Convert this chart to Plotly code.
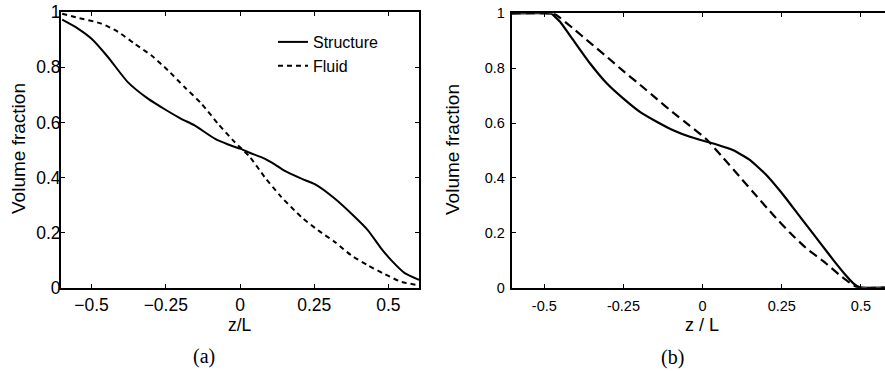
import plotly.graph_objects as go

# ---- Panel (a) data ----
a_struct_z = [-0.599, -0.546, -0.5, -0.445, -0.378, -0.31, -0.248, -0.198, -0.153, -0.085,
              -0.04, 0.0, 0.033, 0.083, 0.117, 0.151, 0.207, 0.252, 0.319, 0.387,
              0.431, 0.476, 0.51, 0.555, 0.603]
a_struct_v = [0.972, 0.94, 0.903, 0.837, 0.746, 0.686, 0.644, 0.613, 0.589, 0.541,
              0.52, 0.505, 0.49, 0.469, 0.448, 0.424, 0.396, 0.376, 0.324, 0.257,
              0.209, 0.143, 0.1, 0.054, 0.03]
a_fluid_z = [-0.599, -0.546, -0.467, -0.411, -0.355, -0.299, -0.243, -0.187, -0.13, -0.074,
             -0.018, 0.033, 0.083, 0.139, 0.207, 0.263, 0.319, 0.375, 0.431, 0.488,
             0.544, 0.603]
a_fluid_v = [0.994, 0.979, 0.958, 0.928, 0.885, 0.843, 0.789, 0.728, 0.668, 0.595,
             0.529, 0.475, 0.402, 0.33, 0.257, 0.209, 0.167, 0.118, 0.082, 0.05,
             0.022, 0.01]

# ---- Panel (b) data ----
b_struct_z = [-0.603, -0.49, -0.477, -0.451, -0.409, -0.356, -0.303, -0.251, -0.198, -0.145,
              -0.093, -0.04, 0.013, 0.044, 0.097, 0.15, 0.202, 0.25, 0.3, 0.35,
              0.4, 0.425, 0.45, 0.475, 0.495, 0.505, 0.576]
b_struct_v = [1.0, 1.0, 0.998, 0.97, 0.903, 0.818, 0.745, 0.69, 0.641, 0.605,
              0.574, 0.55, 0.532, 0.522, 0.501, 0.465, 0.41, 0.345, 0.27, 0.195,
              0.12, 0.083, 0.048, 0.017, 0.002, 0.0, 0.0]
b_fluid_z = [-0.603, -0.475, -0.462, -0.409, -0.356, -0.303, -0.251, -0.198, -0.145, -0.093,
             -0.04, 0.013, 0.065, 0.118, 0.171, 0.223, 0.276, 0.329, 0.381, 0.434,
             0.465, 0.491, 0.576]
b_fluid_v = [1.0, 1.0, 0.994, 0.945, 0.893, 0.842, 0.79, 0.74, 0.688, 0.638,
             0.59, 0.54, 0.473, 0.403, 0.333, 0.265, 0.2, 0.142, 0.097, 0.045,
             0.018, 0.0, 0.0]

y_ticks = [0, 0.2, 0.4, 0.6, 0.8, 1]
y_ticktext = ["0", "0.2", "0.4", "0.6", "0.8", "1"]
x_ticks = [-0.5, -0.25, 0, 0.25, 0.5]
a_x_ticktext = ["\u22120.5", "\u22120.25", "0", "0.25", "0.5"]
b_x_ticktext = ["-0.5", "-0.25", "0", "0.25", "0.5"]

W, H = 885, 371


def px(x):
    return x / W


def py(y):
    return 1 - y / H


FONT = "Liberation Sans, Arial, sans-serif"
SERIF = "Liberation Serif, Times New Roman, serif"

fig = go.Figure()
fig.add_trace(go.Scatter(x=a_struct_z, y=a_struct_v, mode="lines", name="Structure",
                         line=dict(color="black", width=2, shape="spline", smoothing=0.6),
                         xaxis="x", yaxis="y"))
fig.add_trace(go.Scatter(x=a_fluid_z, y=a_fluid_v, mode="lines", name="Fluid",
                         line=dict(color="black", width=2, dash="5px,4px", shape="spline", smoothing=0.6),
                         xaxis="x", yaxis="y"))
fig.add_trace(go.Scatter(x=b_struct_z, y=b_struct_v, mode="lines", showlegend=False,
                         line=dict(color="black", width=2.2, shape="spline", smoothing=0.4),
                         xaxis="x2", yaxis="y2"))
fig.add_trace(go.Scatter(x=b_fluid_z, y=b_fluid_v, mode="lines", showlegend=False,
                         line=dict(color="black", width=2.2, dash="9px,5px", shape="spline", smoothing=0.4),
                         xaxis="x2", yaxis="y2"))

common = dict(showgrid=False, zeroline=False, showline=True, linecolor="black",
              ticks="inside", ticklen=4, tickwidth=1, tickcolor="black", automargin=False,
              ticklabeloverflow="allow")

fig.update_layout(
    width=W, height=H,
    margin=dict(l=0, r=0, t=0, b=0, autoexpand=False),
    paper_bgcolor="white", plot_bgcolor="white",
    font=dict(family=FONT, color="black"),
    showlegend=True,
    legend=dict(x=px(273), y=py(25), xanchor="left", yanchor="top",
                bgcolor="rgba(0,0,0,0)", font=dict(size=16, family=FONT),
                itemwidth=30, tracegroupgap=0),
    xaxis=dict(domain=[px(61), px(419)], range=[-0.603, 0.603], anchor="y",
               tickvals=x_ticks, ticktext=a_x_ticktext, tickfont=dict(size=17.5),
               linewidth=2, mirror="ticks", ticklabelstandoff=0, **common),
    yaxis=dict(domain=[py(288), py(12)], range=[0, 1], anchor="x",
               tickvals=y_ticks, ticktext=y_ticktext, tickfont=dict(size=17.5),
               linewidth=2, mirror="ticks", ticklabelstandoff=-5, **common),
    xaxis2=dict(domain=[px(511.7), 1.0], range=[-0.603, 0.576], anchor="y2",
                tickvals=x_ticks, ticktext=b_x_ticktext, tickfont=dict(size=14.5),
                linewidth=2, mirror="ticks", ticklabelstandoff=4, **common),
    yaxis2=dict(domain=[py(287.7), py(13.3)], range=[0, 1], anchor="x2",
                tickvals=y_ticks, ticktext=y_ticktext, tickfont=dict(size=14.5),
                linewidth=2, mirror=False, ticklabelstandoff=2, **common),
)

annotations = [
    dict(text="Volume fraction", x=px(18), y=py(149), textangle=-90, font=dict(size=19)),
    dict(text="z/L", x=px(240), y=py(325), font=dict(size=17.5)),
    dict(text="Volume fraction", x=px(453), y=py(150), textangle=-90, font=dict(size=19)),
    dict(text="z / L", x=px(702), y=py(325), font=dict(size=18)),
    dict(text="(a)", x=px(204), y=py(356), font=dict(size=20, family=SERIF)),
    dict(text="(b)", x=px(672), y=py(357), font=dict(size=20, family=SERIF)),
]
for a in annotations:
    a.update(xref="paper", yref="paper", xanchor="center", yanchor="middle", showarrow=False)
    fig.add_annotation(**a)

# remove the default 8px body margin so the figure fills the window exactly
fig.write_html("out.html", config={"displayModeBar": False},
               post_script="document.body.style.margin='0';")
